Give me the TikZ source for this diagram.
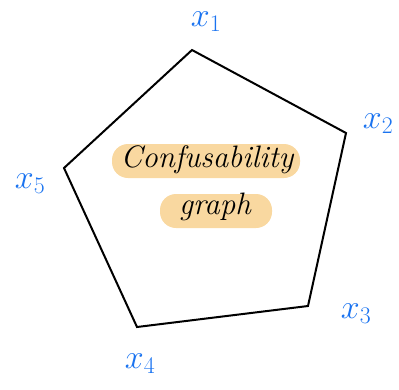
\RequirePackage{fix-cm}
\documentclass[tikz,border=0pt]{standalone}
\usepackage{tikz}
\usetikzlibrary{positioning, calc}
\usepackage{xcolor}
\definecolor{Ink}{HTML}{1A73F0}
\definecolor{Marker}{HTML}{F9D8A0}

\begin{document}
\begin{tikzpicture}[
    x=1pt, y=-1pt,
    edge/.style={draw, line width=2pt, line join=miter},
    vlbl/.style={text=Ink, font=\fontsize{34}{34}\selectfont, inner sep=0pt},
    marker/.style={fill=Marker, rounded corners=16pt, inner sep=0pt},
    hand/.style={font=\fontsize{31}{31}\selectfont\itshape, inner sep=0pt}
]
\useasboundingbox (0,0) rectangle (399,389);

% =============================================
% VERTICES
% =============================================
\coordinate (v1) at (192,50);
\coordinate (v2) at (346,133);
\coordinate (v3) at (308,306);
\coordinate (v4) at (137,327);
\coordinate (v5) at (64,168);

\draw[edge] (v1) -- (v2) -- (v3) -- (v4) -- (v5) -- cycle;

% =============================================
% LABELS
% =============================================
\node[vlbl] (x1) at (206,22) {$x_{1}$};
\node[vlbl] (x2) at (378,124) {$x_{2}$};
\node[vlbl] (x3) at (356,314) {$x_{3}$};
\node[vlbl] (x4) at (140,364) {$x_{4}$};
\node[vlbl] (x5) at (30,184) {$x_{5}$};

% =============================================
% CENTRE TEXT
% =============================================
\node[marker, minimum width=188pt, minimum height=34pt] (hl1) at (206,161) {};
\node[marker, minimum width=112pt, minimum height=34pt] (hl2) at (216,211) {};
\node[hand] (conf) at (207,160) {Confusability};
\node[hand] (graph) at (215,207) {graph};

\end{tikzpicture}
\end{document}
